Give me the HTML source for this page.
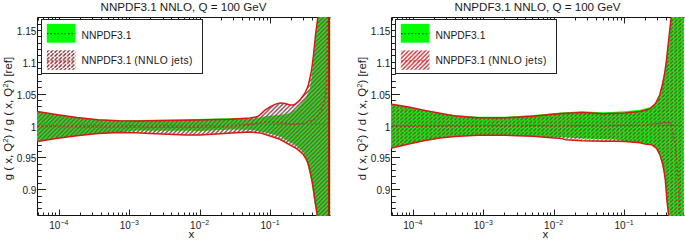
<!DOCTYPE html>
<html><head><meta charset="utf-8"><style>
html,body{margin:0;padding:0;background:#fff;}
svg{display:block;font-family:"Liberation Sans", sans-serif;}
#w{width:685px;height:241px;}
text{fill:#1a1a1a;}
</style></head><body><div id="w">
<svg width="685" height="241" viewBox="0 0 685 241">
<defs><pattern id="hatch" patternUnits="userSpaceOnUse" width="4.15" height="3.75" patternTransform="translate(0.3 0.5)">
<path d="M0.3,3.45 L3.55,0.2" stroke="#8a3848" stroke-width="1.3"/></pattern>
<pattern id="hatchC" patternUnits="userSpaceOnUse" width="4.2" height="4.2" patternTransform="translate(0.5 0)">
<path d="M-1,1.0 L1.0,-1 M0,4.2 L4.2,0 M3.2,5.2 L5.2,3.2" stroke="#8a4a58" stroke-width="1.4"/></pattern>
<pattern id="hatchRL" patternUnits="userSpaceOnUse" width="4.2" height="4.2" patternTransform="translate(0.5 0)">
<path d="M-1,1.0 L1.0,-1 M0,4.2 L4.2,0 M3.2,5.2 L5.2,3.2" stroke="#c83a40" stroke-width="1.4"/></pattern>
<pattern id="hatchL" patternUnits="userSpaceOnUse" width="4.15" height="3.75" patternTransform="translate(0.3 0.5)">
<path d="M0.3,3.45 L3.55,0.2" stroke="#802830" stroke-width="1.4"/></pattern>
<clipPath id="cl"><rect x="37" y="16.8" width="293.4" height="199.4"/></clipPath><clipPath id="cr"><rect x="37" y="16.8" width="292.8" height="199.4"/></clipPath></defs>
<rect width="685" height="241" fill="#fff"/>
<g>
<g><path d="M37.5 17.5H330.5M37.5 215.5H330.5M37.5 17.5V215.5" stroke="#111" stroke-width="1" fill="none"/>
<path d="M38.5 215.5v-3M38.5 17.5v3M43.5 215.5v-3M43.5 17.5v3M48.5 215.5v-3M48.5 17.5v3M52.5 215.5v-3M52.5 17.5v3M55.5 215.5v-3M55.5 17.5v3M59.5 215.5v-6M59.5 17.5v6M80.5 215.5v-3M80.5 17.5v3M92.5 215.5v-3M92.5 17.5v3M101.5 215.5v-3M101.5 17.5v3M108.5 215.5v-3M108.5 17.5v3M113.5 215.5v-3M113.5 17.5v3M118.5 215.5v-3M118.5 17.5v3M122.5 215.5v-3M122.5 17.5v3M126.5 215.5v-3M126.5 17.5v3M129.5 215.5v-6M129.5 17.5v6M150.5 215.5v-3M150.5 17.5v3M163.5 215.5v-3M163.5 17.5v3M171.5 215.5v-3M171.5 17.5v3M178.5 215.5v-3M178.5 17.5v3M184.5 215.5v-3M184.5 17.5v3M189.5 215.5v-3M189.5 17.5v3M193.5 215.5v-3M193.5 17.5v3M196.5 215.5v-3M196.5 17.5v3M200.5 215.5v-6M200.5 17.5v6M221.5 215.5v-3M221.5 17.5v3M233.5 215.5v-3M233.5 17.5v3M242.5 215.5v-3M242.5 17.5v3M249.5 215.5v-3M249.5 17.5v3M254.5 215.5v-3M254.5 17.5v3M259.5 215.5v-3M259.5 17.5v3M263.5 215.5v-3M263.5 17.5v3M267.5 215.5v-3M267.5 17.5v3M270.5 215.5v-6M270.5 17.5v6M291.5 215.5v-3M291.5 17.5v3M303.5 215.5v-3M303.5 17.5v3M312.5 215.5v-3M312.5 17.5v3M319.5 215.5v-3M319.5 17.5v3M325.5 215.5v-3M325.5 17.5v3M329.5 215.5v-3M329.5 17.5v3M37.5 208.5h4.3M37.5 202.5h4.3M37.5 196.5h4.3M37.5 189.5h8.5M37.5 183.5h4.3M37.5 176.5h4.3M37.5 170.5h4.3M37.5 164.5h4.3M37.5 157.5h8.5M37.5 151.5h4.3M37.5 145.5h4.3M37.5 138.5h4.3M37.5 132.5h4.3M37.5 125.5h8.5M37.5 119.5h4.3M37.5 113.5h4.3M37.5 106.5h4.3M37.5 100.5h4.3M37.5 94.5h8.5M37.5 87.5h4.3M37.5 81.5h4.3M37.5 74.5h4.3M37.5 68.5h4.3M37.5 62.5h8.5M37.5 55.5h4.3M37.5 49.5h4.3M37.5 43.5h4.3M37.5 36.5h4.3M37.5 30.5h8.5M37.5 24.5h4.3" stroke="#222" stroke-width="1" fill="none"/>
<g clip-path="url(#cl)">
<path d="M37.0,111.4 L56.0,114.5 L77.0,117.6 L98.0,119.7 L119.0,120.2 L136.0,119.9 L186.0,119.2 L236.0,118.0 L250.0,118.6 L255.0,118.4 L262.0,117.0 L268.0,116.1 L280.0,114.9 L290.0,113.3 L296.2,109.0 L300.0,105.0 L304.5,99.7 L309.7,89.3 L311.4,80.0 L314.2,52.0 L316.0,35.0 L318.0,16.9 L330.5,16.9 L330.5,216.1 L316.4,216.1 L315.3,208.0 L314.0,200.0 L312.6,190.0 L311.0,180.0 L309.5,173.0 L308.2,167.0 L306.7,162.0 L305.0,156.5 L302.8,151.8 L296.6,146.0 L288.3,141.2 L280.0,136.5 L268.0,133.0 L262.0,132.0 L255.0,130.5 L250.0,129.8 L230.0,129.6 L200.0,131.0 L186.0,130.8 L150.0,130.7 L136.0,130.6 L119.0,132.2 L98.0,133.6 L77.0,135.7 L56.0,138.4 L37.0,141.5 Z" fill="#00ff00"/>
<path d="M37.5,125.3 L200.0,125.3 L240.0,124.8 L300.0,124.0 L330.0,124.0" fill="none" stroke="#2a6a2a" stroke-width="1.0" stroke-dasharray="1.3 2.5"/>
<path d="M37.0,111.4 L56.0,114.5 L77.0,117.6 L98.0,119.7 L119.0,120.7 L136.0,121.0 L186.0,120.3 L230.0,119.3 L250.0,118.0 L257.0,116.8 L260.0,114.9 L265.0,110.0 L270.0,106.9 L275.0,104.4 L280.0,102.9 L285.0,103.5 L290.0,104.9 L293.0,105.1 L295.5,104.0 L300.0,99.9 L304.9,93.2 L307.9,86.6 L309.9,78.3 L311.6,70.0 L313.5,55.0 L315.5,35.0 L317.8,16.9 L330.5,16.9 L330.5,216.1 L317.4,216.1 L316.2,208.0 L314.9,200.0 L313.5,190.0 L311.9,180.0 L310.4,173.0 L309.0,167.0 L307.5,162.0 L305.5,158.0 L302.8,153.9 L296.6,148.7 L288.3,144.1 L280.0,139.3 L270.0,136.0 L260.0,132.9 L250.0,131.9 L236.0,132.8 L200.0,134.9 L186.0,134.9 L150.0,133.4 L136.0,132.7 L119.0,132.5 L98.0,133.6 L77.0,135.7 L56.0,138.4 L37.0,141.5 Z" fill="url(#hatchC)"/>
<path d="M37.5,111.4 L56.0,114.5 L77.0,117.6 L98.0,119.7 L119.0,120.7 L136.0,121.0 L186.0,120.3 L230.0,119.3 L250.0,118.0 L257.0,116.8 L260.0,114.9 L265.0,110.0 L270.0,106.9 L275.0,104.4 L280.0,102.9 L285.0,103.5 L290.0,104.9 L293.0,105.1 L295.5,104.0 L300.0,99.9 L304.9,93.2 L307.9,86.6 L309.9,78.3 L311.6,70.0 L313.5,55.0 L315.5,35.0 L317.8,17.5" fill="none" stroke="#d81818" stroke-width="1.5"/>
<path d="M37.5,141.5 L56.0,138.4 L77.0,135.7 L98.0,133.6 L119.0,132.5 L136.0,132.7 L150.0,133.4 L186.0,134.9 L200.0,134.9 L236.0,132.8 L250.0,131.9 L260.0,132.9 L270.0,136.0 L280.0,139.3 L288.3,144.1 L296.6,148.7 L302.8,153.9 L305.5,158.0 L307.5,162.0 L309.0,167.0 L310.4,173.0 L311.9,180.0 L313.5,190.0 L314.9,200.0 L316.2,208.0 L317.4,215.5" fill="none" stroke="#d81818" stroke-width="1.5"/>
<path d="M37.5,126.6 L100.0,126.8 L150.0,127.0 L200.0,127.0 L230.0,126.7 L255.0,123.6 L268.0,121.7 L280.0,122.3 L292.0,124.4 L302.0,123.8 L312.8,120.5 L319.0,115.3 L322.2,107.0 L324.9,98.7 L326.3,88.3 L327.0,70.0 L327.5,17.5" fill="none" stroke="#c82828" stroke-width="1.3" stroke-dasharray="2 2.2"/>
<path d="M329.1,16.9 L329.1,216.1" fill="none" stroke="#c01010" stroke-width="2"/>
</g>
<rect x="41.5" y="19.5" width="161" height="54" fill="#fff" stroke="#222" stroke-width="1"/>
<rect x="46.8" y="23.9" width="28.7" height="18.8" fill="#00ff00"/>
<path d="M47 33.6H75.5" stroke="#1a5a1a" stroke-width="1.2" stroke-dasharray="1.5 2"/>
<rect x="46.8" y="50.3" width="28.7" height="19.5" fill="url(#hatchL)"/>
<path d="M47 61H75.5" stroke="#d81818" stroke-width="1.1" stroke-dasharray="2 2.1"/>
<text x="81.6" y="38.6" font-size="10.3">NNPDF3.1</text>
<text x="81.6" y="64" font-size="10.3">NNPDF3.1 <tspan letter-spacing="0.38">(NNLO jets)</tspan></text>
<text x="183.5" y="10.6" font-size="11.6" text-anchor="middle">NNPDF3.1 NNLO, Q = 100 GeV</text>
<text x="36.3" y="35.0" font-size="10" text-anchor="end">1.15</text>
<text x="36.3" y="66.8" font-size="10" text-anchor="end">1.1</text>
<text x="36.3" y="98.7" font-size="10" text-anchor="end">1.05</text>
<text x="36.3" y="130.6" font-size="10" text-anchor="end">1</text>
<text x="36.3" y="162.4" font-size="10" text-anchor="end">0.95</text>
<text x="36.3" y="194.2" font-size="10" text-anchor="end">0.9</text>
<text x="49.3" y="229.3" font-size="10">10<tspan font-size="7" dy="-4.6">−4</tspan></text>
<text x="119.7" y="229.3" font-size="10">10<tspan font-size="7" dy="-4.6">−3</tspan></text>
<text x="190.1" y="229.3" font-size="10">10<tspan font-size="7" dy="-4.6">−2</tspan></text>
<text x="260.5" y="229.3" font-size="10">10<tspan font-size="7" dy="-4.6">−1</tspan></text>
<text x="188.6" y="237.6" font-size="11.5">x</text>
<text transform="translate(12.2,180.2) rotate(-90)" font-size="11.4">g ( x, Q<tspan font-size="7.8" dy="-4.6">2</tspan><tspan dy="4.6">) / g ( x, Q</tspan><tspan font-size="7.8" dy="-4.6">2</tspan><tspan dy="4.6">) [ref]</tspan></text></g>
<g transform="translate(354,0)"><path d="M37.5 17.5H330.5M37.5 215.5H330.5M37.5 17.5V215.5" stroke="#111" stroke-width="1" fill="none"/>
<path d="M38.5 215.5v-3M38.5 17.5v3M43.5 215.5v-3M43.5 17.5v3M48.5 215.5v-3M48.5 17.5v3M52.5 215.5v-3M52.5 17.5v3M55.5 215.5v-3M55.5 17.5v3M59.5 215.5v-6M59.5 17.5v6M80.5 215.5v-3M80.5 17.5v3M92.5 215.5v-3M92.5 17.5v3M101.5 215.5v-3M101.5 17.5v3M108.5 215.5v-3M108.5 17.5v3M113.5 215.5v-3M113.5 17.5v3M118.5 215.5v-3M118.5 17.5v3M122.5 215.5v-3M122.5 17.5v3M126.5 215.5v-3M126.5 17.5v3M129.5 215.5v-6M129.5 17.5v6M150.5 215.5v-3M150.5 17.5v3M163.5 215.5v-3M163.5 17.5v3M171.5 215.5v-3M171.5 17.5v3M178.5 215.5v-3M178.5 17.5v3M184.5 215.5v-3M184.5 17.5v3M189.5 215.5v-3M189.5 17.5v3M193.5 215.5v-3M193.5 17.5v3M196.5 215.5v-3M196.5 17.5v3M200.5 215.5v-6M200.5 17.5v6M221.5 215.5v-3M221.5 17.5v3M233.5 215.5v-3M233.5 17.5v3M242.5 215.5v-3M242.5 17.5v3M249.5 215.5v-3M249.5 17.5v3M254.5 215.5v-3M254.5 17.5v3M259.5 215.5v-3M259.5 17.5v3M263.5 215.5v-3M263.5 17.5v3M267.5 215.5v-3M267.5 17.5v3M270.5 215.5v-6M270.5 17.5v6M291.5 215.5v-3M291.5 17.5v3M303.5 215.5v-3M303.5 17.5v3M312.5 215.5v-3M312.5 17.5v3M319.5 215.5v-3M319.5 17.5v3M325.5 215.5v-3M325.5 17.5v3M329.5 215.5v-3M329.5 17.5v3M37.5 208.5h4.3M37.5 202.5h4.3M37.5 196.5h4.3M37.5 189.5h8.5M37.5 183.5h4.3M37.5 176.5h4.3M37.5 170.5h4.3M37.5 164.5h4.3M37.5 157.5h8.5M37.5 151.5h4.3M37.5 145.5h4.3M37.5 138.5h4.3M37.5 132.5h4.3M37.5 125.5h8.5M37.5 119.5h4.3M37.5 113.5h4.3M37.5 106.5h4.3M37.5 100.5h4.3M37.5 94.5h8.5M37.5 87.5h4.3M37.5 81.5h4.3M37.5 74.5h4.3M37.5 68.5h4.3M37.5 62.5h8.5M37.5 55.5h4.3M37.5 49.5h4.3M37.5 43.5h4.3M37.5 36.5h4.3M37.5 30.5h8.5M37.5 24.5h4.3" stroke="#222" stroke-width="1" fill="none"/>
<g clip-path="url(#cr)">
<path d="M37.0,104.2 L41.0,104.8 L56.0,107.3 L71.0,110.5 L86.0,113.2 L101.0,114.9 L124.0,116.7 L151.0,116.7 L179.0,115.1 L191.0,113.9 L207.0,112.4 L228.0,111.3 L238.0,111.8 L249.0,112.2 L256.0,112.0 L271.0,111.3 L286.0,109.8 L291.0,108.6 L296.4,107.0 L301.6,103.4 L305.7,95.0 L308.4,84.5 L310.5,74.1 L312.5,60.0 L317.1,16.9 L330.5,16.9 L330.5,216.1 L314.6,216.1 L312.9,200.0 L311.3,180.0 L310.1,171.5 L308.4,163.2 L305.9,154.9 L302.6,148.3 L297.6,144.7 L291.0,144.0 L286.0,142.7 L271.0,141.2 L261.0,139.6 L249.0,139.2 L228.0,138.6 L207.0,137.0 L191.0,137.0 L179.0,136.3 L151.0,135.3 L124.0,135.3 L101.0,136.5 L86.0,138.1 L71.0,140.6 L56.0,143.7 L41.0,147.2 L37.0,148.2 Z" fill="#00ff00"/>
<path d="M38.0,125.3 L330.0,125.3" fill="none" stroke="#2a6a2a" stroke-width="1.0" stroke-dasharray="1.3 2.5"/>
<path d="M37.0,104.2 L41.0,104.8 L56.0,107.3 L71.0,110.5 L86.0,113.2 L101.0,116.0 L124.0,117.8 L151.0,117.8 L179.0,116.2 L191.0,115.0 L207.0,113.5 L228.0,112.4 L238.0,112.9 L249.0,113.8 L256.0,113.6 L271.0,112.9 L286.0,111.4 L291.0,110.2 L296.4,108.6 L301.6,103.4 L305.7,95.0 L308.4,84.5 L310.5,74.1 L312.5,60.0 L317.1,16.9 L330.5,16.9 L330.5,216.1 L314.6,216.1 L312.9,200.0 L311.3,180.0 L310.1,171.5 L308.4,163.2 L305.9,154.9 L302.6,148.3 L297.6,144.7 L291.0,144.0 L286.0,142.7 L271.0,141.6 L261.0,141.3 L249.0,141.3 L228.0,140.8 L212.0,139.8 L207.0,138.4 L191.0,137.2 L179.0,136.3 L151.0,135.3 L124.0,135.3 L101.0,136.5 L86.0,138.1 L71.0,140.6 L56.0,143.7 L41.0,147.2 L37.0,148.2 Z" fill="url(#hatch)"/>
<path d="M37.0,104.2 L41.0,104.8 L56.0,107.3 L71.0,110.5 L86.0,113.2 L101.0,116.0 L124.0,117.8 L151.0,117.8 L179.0,116.2 L191.0,115.0 L207.0,113.5 L228.0,112.4 L238.0,112.9 L249.0,113.8 L256.0,113.6 L271.0,112.9 L286.0,111.4 L291.0,110.2 L296.4,108.6 L301.6,103.4 L305.7,95.0 L308.4,84.5 L310.5,74.1 L312.5,60.0 L317.1,17.5" fill="none" stroke="#d81818" stroke-width="1.5"/>
<path d="M37.0,148.2 L41.0,147.2 L56.0,143.7 L71.0,140.6 L86.0,138.1 L101.0,136.5 L124.0,135.3 L151.0,135.3 L179.0,136.3 L191.0,137.2 L207.0,138.4 L212.0,139.8 L228.0,140.8 L249.0,141.3 L261.0,141.3 L271.0,141.6 L286.0,142.7 L291.0,144.0 L297.6,144.7 L302.6,148.3 L305.9,154.9 L308.4,163.2 L310.1,171.5 L311.3,180.0 L312.9,200.0 L314.6,215.5" fill="none" stroke="#d81818" stroke-width="1.5"/>
<path d="M37.0,126.6 L146.0,126.3 L206.0,125.8 L266.0,125.5 L291.0,125.0 L301.0,124.0 L313.4,122.1 L317.0,123.5 L318.6,130.4 L320.7,142.9 L322.8,159.5 L324.0,175.0 L324.8,195.0 L325.3,215.5" fill="none" stroke="#c82828" stroke-width="1.3" stroke-dasharray="2 2.2"/>
</g>
<rect x="41.5" y="19.5" width="161" height="54" fill="#fff" stroke="#222" stroke-width="1"/>
<rect x="46.8" y="23.9" width="28.7" height="18.8" fill="#00ff00"/>
<path d="M47 33.6H75.5" stroke="#1a5a1a" stroke-width="1.2" stroke-dasharray="1.5 2"/>
<rect x="46.8" y="50.3" width="28.7" height="19.5" fill="url(#hatchRL)"/>
<path d="M47 61H75.5" stroke="#d81818" stroke-width="1.1" stroke-dasharray="2 2.1"/>
<text x="81.6" y="38.6" font-size="10.3">NNPDF3.1</text>
<text x="81.6" y="64" font-size="10.3">NNPDF3.1 <tspan letter-spacing="0.38">(NNLO jets)</tspan></text>
<text x="183.5" y="10.6" font-size="11.6" text-anchor="middle">NNPDF3.1 NNLO, Q = 100 GeV</text>
<text x="36.3" y="35.0" font-size="10" text-anchor="end">1.15</text>
<text x="36.3" y="66.8" font-size="10" text-anchor="end">1.1</text>
<text x="36.3" y="98.7" font-size="10" text-anchor="end">1.05</text>
<text x="36.3" y="130.6" font-size="10" text-anchor="end">1</text>
<text x="36.3" y="162.4" font-size="10" text-anchor="end">0.95</text>
<text x="36.3" y="194.2" font-size="10" text-anchor="end">0.9</text>
<text x="49.3" y="229.3" font-size="10">10<tspan font-size="7" dy="-4.6">−4</tspan></text>
<text x="119.7" y="229.3" font-size="10">10<tspan font-size="7" dy="-4.6">−3</tspan></text>
<text x="190.1" y="229.3" font-size="10">10<tspan font-size="7" dy="-4.6">−2</tspan></text>
<text x="260.5" y="229.3" font-size="10">10<tspan font-size="7" dy="-4.6">−1</tspan></text>
<text x="188.6" y="237.6" font-size="11.5">x</text>
<text transform="translate(12.2,180.2) rotate(-90)" font-size="11.4">d ( x, Q<tspan font-size="7.8" dy="-4.6">2</tspan><tspan dy="4.6">) / d ( x, Q</tspan><tspan font-size="7.8" dy="-4.6">2</tspan><tspan dy="4.6">) [ref]</tspan></text></g>
</g>
</svg></div>
</body></html>
